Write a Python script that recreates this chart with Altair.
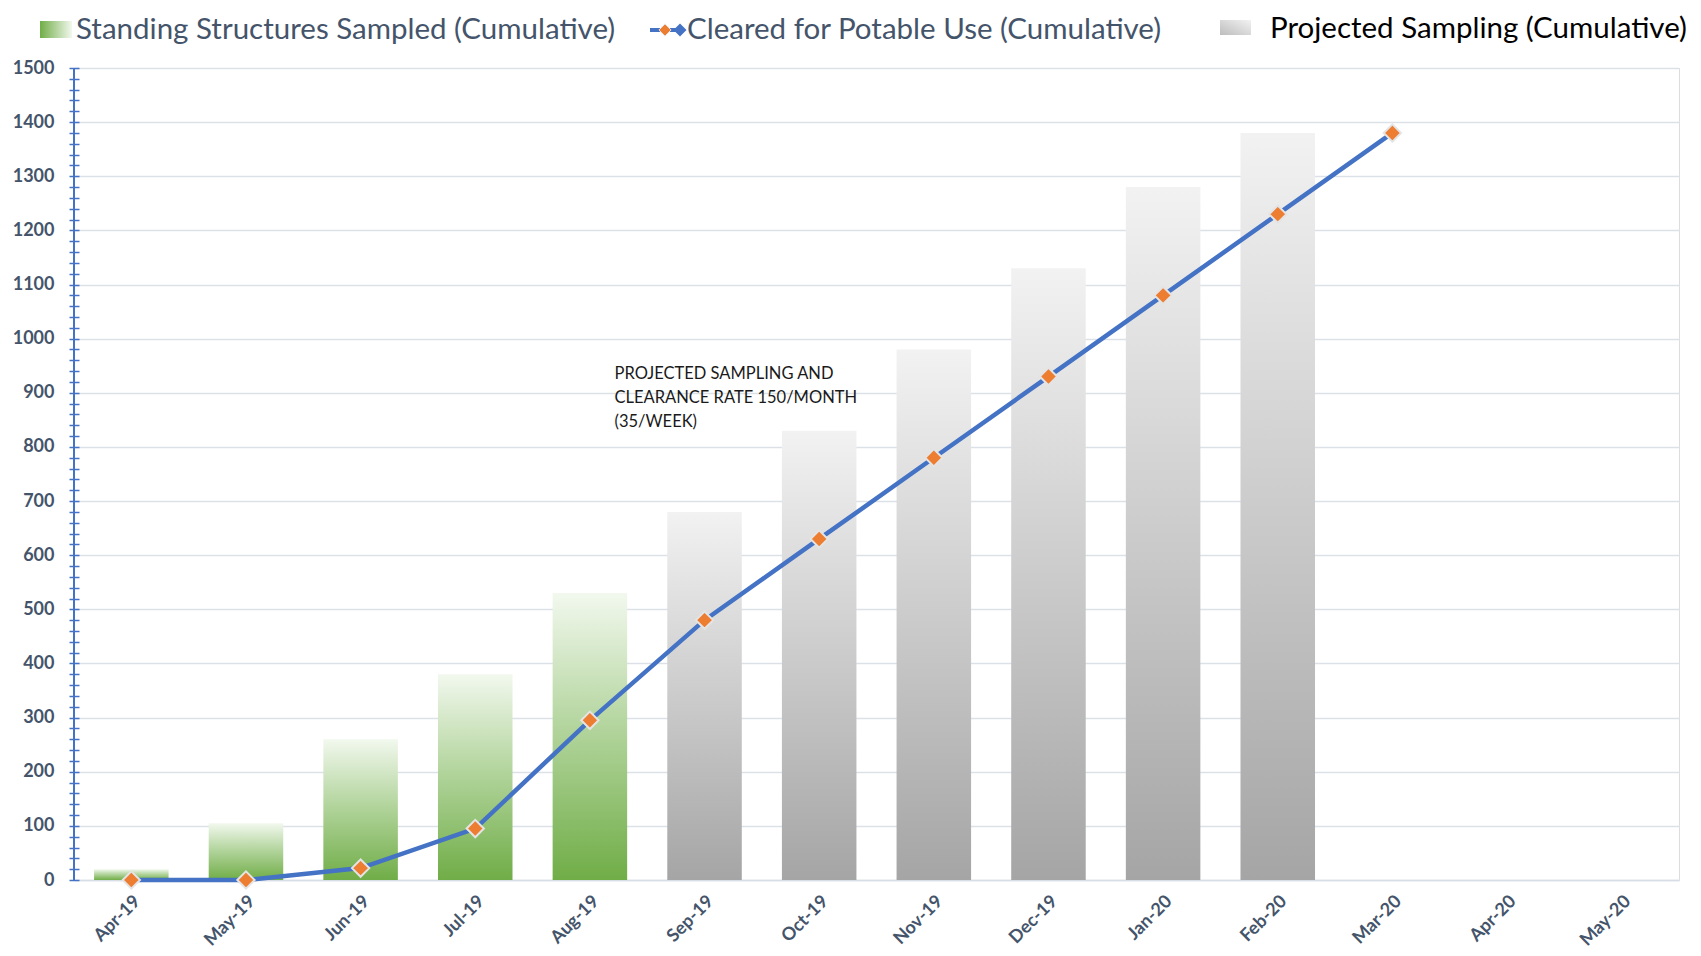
import altair as alt
import pandas as pd

months = ["Apr-19", "May-19", "Jun-19", "Jul-19", "Aug-19", "Sep-19", "Oct-19",
          "Nov-19", "Dec-19", "Jan-20", "Feb-20", "Mar-20", "Apr-20", "May-20"]
sampled_months = ["Apr-19", "May-19", "Jun-19", "Jul-19", "Aug-19"]
sampled_values = [20, 105, 260, 380, 530]
projected_months = ["Sep-19", "Oct-19", "Nov-19", "Dec-19", "Jan-20", "Feb-20"]
projected_values = [680, 830, 980, 1130, 1280, 1380]
cleared_months = months[:12]
cleared_values = [0, 0, 22, 95, 295, 480, 630, 780, 930, 1080, 1230, 1380]

legend_labels = ["Standing Structures Sampled (Cumulative)",
                 "Cleared for Potable Use (Cumulative)",
                 "Projected Sampling (Cumulative)"]
annotation = ["PROJECTED SAMPLING AND", "CLEARANCE RATE 150/MONTH", "(35/WEEK)"]
y_ticks = list(range(0, 1501, 20))

W, H = 1605, 812
FONT = "Lato"
SLATE = "#44546A"
BLUE = "#4472C4"
ORANGE = "#ED7D31"
LEG_Y = -38

sampled_df = pd.DataFrame({"month": sampled_months, "value": sampled_values})
projected_df = pd.DataFrame({"month": projected_months, "value": projected_values})
cleared_df = pd.DataFrame({"month": cleared_months, "value": cleared_values})
note_df = pd.DataFrame({"month": ["Sep-19"], "value": [935], "text": [annotation]})

x_scale = alt.Scale(domain=months, paddingInner=0.35, paddingOuter=0.175)
y_scale = alt.Scale(domain=[0, 1500], nice=False, zero=True)

x_enc = alt.X("month:N", scale=x_scale, sort=months, title=None,
              axis=alt.Axis(labelAngle=-45, labelFont=FONT, labelFontSize=18,
                            labelFontWeight="bold", labelColor=SLATE,
                            labelPadding=12, ticks=False, domainColor="#D9DEE6",
                            domainWidth=1.5, grid=False))
y_axis = alt.Axis(values=y_ticks, tickCount=200, title=None, domain=False, offset=-5,
                  tickSize=10, tickColor=BLUE, tickWidth=1.5, labelOverlap=False,
                  format="d",
                  labelExpr="datum.value % 100 === 0 ? datum.label : ''",
                  labelFont=FONT, labelFontSize=18, labelFontWeight="bold",
                  labelColor=SLATE, labelPadding=15,
                  grid=True, gridColor="#DCE1E8", gridWidth=1.5,
                  gridOpacity={"condition": {"test": "datum.value % 100 === 0", "value": 1},
                               "value": 0})

green_grad = alt.Gradient(gradient="linear",
                          stops=[alt.GradientStop(color="#F2F8EE", offset=0),
                                 alt.GradientStop(color="#B5D6A0", offset=0.45),
                                 alt.GradientStop(color="#70AD47", offset=1)],
                          x1=0, x2=0, y1=0, y2=1)
gray_grad = alt.Gradient(gradient="linear",
                         stops=[alt.GradientStop(color="#F2F2F2", offset=0),
                                alt.GradientStop(color="#A5A5A5", offset=1)],
                         x1=0, x2=0, y1=0, y2=1)

bars_green = alt.Chart(sampled_df).mark_bar(color=green_grad).encode(
    x=x_enc, y=alt.Y("value:Q", scale=y_scale, axis=y_axis))
bars_gray = alt.Chart(projected_df).mark_bar(color=gray_grad).encode(
    x=alt.X("month:N", scale=x_scale, sort=months),
    y=alt.Y("value:Q", scale=y_scale))
line = alt.Chart(cleared_df).mark_line(color=BLUE, strokeWidth=4.5).encode(
    x=alt.X("month:N", scale=x_scale, sort=months),
    y=alt.Y("value:Q", scale=y_scale))
points = alt.Chart(cleared_df).mark_point(
    shape="diamond", filled=True, fill=ORANGE, size=300, stroke="#E4E4E4",
    strokeWidth=2, opacity=1).encode(
    x=alt.X("month:N", scale=x_scale, sort=months),
    y=alt.Y("value:Q", scale=y_scale))
note = alt.Chart(note_df).mark_text(
    align="left", baseline="middle", dx=-90, font=FONT, fontSize=16.5,
    lineHeight=24, color="#1A1A1A").encode(
    x=alt.X("month:N", scale=x_scale, sort=months),
    y=alt.Y("value:Q", scale=y_scale), text="text")

# y-axis line
axis_line = alt.Chart(alt.Data(values=[{}])).mark_rule(color=BLUE, strokeWidth=2).encode(
    x=alt.value(0), y=alt.value(0), y2=alt.value(H))

# legend
one = alt.Data(values=[{}])
leg_sw1 = alt.Chart(one).mark_rect(color=alt.Gradient(
    gradient="linear",
    stops=[alt.GradientStop(color="#F2F8EE", offset=0),
           alt.GradientStop(color="#70AD47", offset=1)],
    x1=1, x2=0, y1=0, y2=0)).encode(
    x=alt.value(-34), x2=alt.value(-2), y=alt.value(LEG_Y - 9), y2=alt.value(LEG_Y + 8))
leg_t1 = alt.Chart(one).mark_text(align="left", baseline="middle", font=FONT,
                                  fontSize=29.5, color=SLATE).encode(
    x=alt.value(2), y=alt.value(LEG_Y), text=alt.value(legend_labels[0]))
leg_l2a = alt.Chart(one).mark_rule(color=BLUE, strokeWidth=4).encode(
    x=alt.value(576), x2=alt.value(586), y=alt.value(LEG_Y))
leg_l2b = alt.Chart(one).mark_rule(color=BLUE, strokeWidth=4).encode(
    x=alt.value(596), x2=alt.value(604), y=alt.value(LEG_Y))
leg_d2a = alt.Chart(one).mark_point(shape="diamond", filled=True, fill=ORANGE,
                                    size=150, stroke="#E4E4E4", strokeWidth=1,
                                    opacity=1).encode(
    x=alt.value(591), y=alt.value(LEG_Y))
leg_d2b = alt.Chart(one).mark_point(shape="diamond", filled=True, fill=BLUE,
                                    size=170, opacity=1).encode(
    x=alt.value(606), y=alt.value(LEG_Y))
leg_t2 = alt.Chart(one).mark_text(align="left", baseline="middle", font=FONT,
                                  fontSize=29.5, color=SLATE).encode(
    x=alt.value(613), y=alt.value(LEG_Y), text=alt.value(legend_labels[1]))
leg_sw3 = alt.Chart(one).mark_rect(color=alt.Gradient(
    gradient="linear",
    stops=[alt.GradientStop(color="#F2F2F2", offset=0),
           alt.GradientStop(color="#BDBDBD", offset=1)],
    x1=1, x2=0, y1=0, y2=1)).encode(
    x=alt.value(1146), x2=alt.value(1177), y=alt.value(LEG_Y - 10), y2=alt.value(LEG_Y + 5))
leg_t3 = alt.Chart(one).mark_text(align="left", baseline="middle", font=FONT,
                                  fontSize=29.5, color="#000000").encode(
    x=alt.value(1196), y=alt.value(LEG_Y - 1), text=alt.value(legend_labels[2]))

chart = alt.layer(
    bars_green, bars_gray, line, points, note, axis_line,
    leg_sw1, leg_t1, leg_l2a, leg_l2b, leg_d2a, leg_d2b, leg_t2, leg_sw3, leg_t3
).properties(
    width=W, height=H, autosize="none",
    padding={"left": 66, "top": 60, "right": 14, "bottom": 70}
).configure_view(stroke=None).configure(background="white")

chart.save("out.html", embed_options={"renderer": "svg", "actions": False})
